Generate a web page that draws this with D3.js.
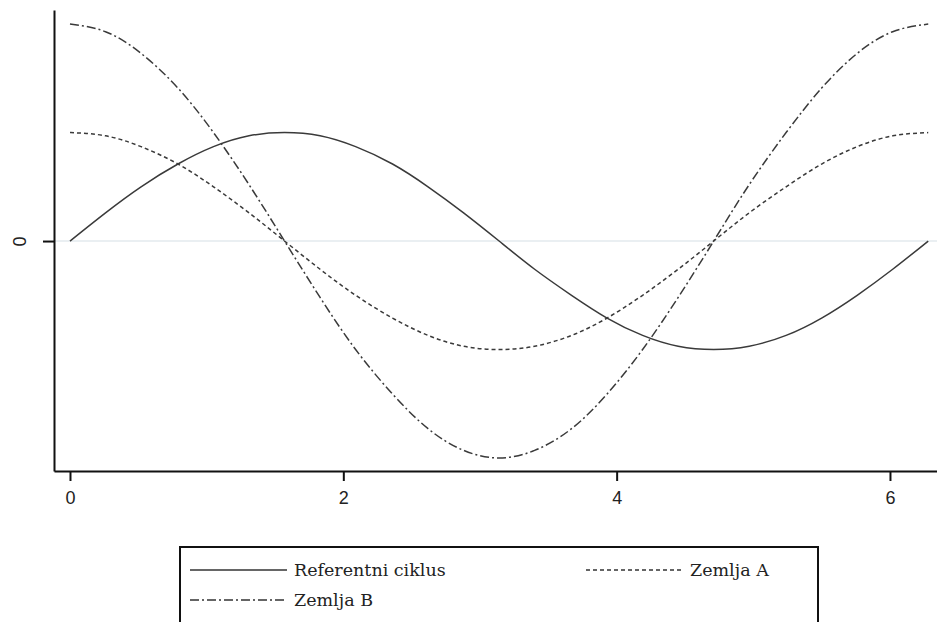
<!DOCTYPE html>
<html>
<head>
<meta charset="utf-8">
<script src="https://cdn.jsdelivr.net/npm/d3@7"></script>
<style>
  body { margin: 0; background: #fff; }
  svg { display: block; }
  .legend text { font-family: "DejaVu Serif", "Liberation Serif", serif; font-size: 17.5px; }
</style>
</head>
<body>
<div id="chart"></div>
<script>
// Values (x in radians, one point every ~0.26)
const xValues = [0, 0.26, 0.52, 0.79, 1.05, 1.31, 1.57, 1.83, 2.09, 2.36, 2.62, 2.88, 3.14,
                 3.40, 3.67, 3.93, 4.19, 4.45, 4.71, 4.97, 5.24, 5.50, 5.76, 6.02, 6.28];
const referentniCiklus = [0, 0.26, 0.50, 0.71, 0.87, 0.97, 1, 0.97, 0.87, 0.71, 0.50, 0.26, 0,
                          -0.26, -0.50, -0.71, -0.87, -0.97, -1, -0.97, -0.87, -0.71, -0.50, -0.26, 0];
const zemljaA = [1, 0.97, 0.87, 0.71, 0.50, 0.26, 0, -0.26, -0.50, -0.71, -0.87, -0.97, -1,
                 -0.97, -0.87, -0.71, -0.50, -0.26, 0, 0.26, 0.50, 0.71, 0.87, 0.97, 1];
const zemljaB = [2, 1.93, 1.73, 1.41, 1, 0.52, 0, -0.52, -1, -1.41, -1.73, -1.93, -2,
                 -1.93, -1.73, -1.41, -1, -0.52, 0, 0.52, 1, 1.41, 1.73, 1.93, 2];
const xTicks = [0, 2, 4, 6];
const yTicks = [0];

const seriesNames = ["Referentni ciklus", "Zemlja A", "Zemlja B"];
const dashes = [null, "4,3", "9,3,2,3"];

const width = 937;
const height = 622;

const svg = d3.select("#chart")
  .append("svg")
    .attr("width", width)
    .attr("height", height);

// Scales
const xScale = d3.scaleLinear()
  .domain([-0.117, 6.41])
  .range([54, 946]);
const yScale = d3.scaleLinear()
  .domain([-2.12, 2.13])
  .range([471, 10]);

// zero line
svg.append("line")
  .attr("x1", xScale.range()[0])
  .attr("x2", width)
  .attr("y1", yScale(0))
  .attr("y2", yScale(0))
  .attr("stroke", "#e3eaee")
  .attr("stroke-width", 1.5);

// Axes
const bottomAxis = d3.axisBottom(xScale)
  .tickValues(xTicks)
  .tickFormat(d3.format("d"))
  .tickSize(10)
  .tickSizeOuter(0)
  .tickPadding(10);
const xAxis = svg.append("g")
  .attr("class", "axis-x")
  .attr("transform", `translate(0, ${yScale.range()[0]})`)
  .call(bottomAxis);

const leftAxis = d3.axisLeft(yScale)
  .tickValues(yTicks)
  .tickFormat(d3.format("d"))
  .tickSize(11)
  .tickSizeOuter(0)
  .tickPadding(0);
const yAxis = svg.append("g")
  .attr("class", "axis-y")
  .attr("transform", `translate(${xScale.range()[0]}, 0)`)
  .call(leftAxis);

[xAxis, yAxis].forEach(ax => {
  ax.attr("font-family", "'Liberation Sans', Arial, sans-serif").attr("font-size", 18);
  ax.select(".domain").attr("stroke", "#111").attr("stroke-width", 2);
  ax.selectAll(".tick line").attr("stroke", "#111").attr("stroke-width", 2);
  ax.selectAll("text").attr("fill", "#222");
});

// rotate the y tick label
yAxis.selectAll(".tick text")
  .attr("text-anchor", "middle")
  .attr("transform", "translate(-34, 0) rotate(-90)")
  .attr("x", 0)
  .attr("dy", "0.35em");

// Lines
const series = [referentniCiklus, zemljaA, zemljaB];
const line = d3.line()
  .x((d, i) => xScale(xValues[i]))
  .y(d => yScale(d))
  .curve(d3.curveNatural);

series.forEach((values, i) => {
  svg.append("path")
    .datum(values)
    .attr("fill", "none")
    .attr("stroke", "#3a3a3a")
    .attr("stroke-width", 1.5)
    .attr("stroke-dasharray", dashes[i])
    .attr("d", line);
});

// Legend
const legend = svg.append("g").attr("class", "legend");
legend.append("rect")
  .attr("x", 180)
  .attr("y", 547)
  .attr("width", 638)
  .attr("height", 120)
  .attr("fill", "none")
  .attr("stroke", "#111")
  .attr("stroke-width", 2);

const legendPos = [
  {x: 190, y: 570},
  {x: 586, y: 570},
  {x: 190, y: 600}
];

seriesNames.forEach((name, i) => {
  const p = legendPos[i];
  legend.append("line")
    .attr("x1", p.x)
    .attr("x2", p.x + 97)
    .attr("y1", p.y)
    .attr("y2", p.y)
    .attr("stroke", "#333")
    .attr("stroke-width", 1.5)
    .attr("stroke-dasharray", dashes[i]);
  legend.append("text")
    .attr("x", p.x + 104)
    .attr("y", p.y)
    .attr("dy", "0.35em")
    .attr("fill", "#222")
    .text(name);
});
</script>
</body>
</html>
